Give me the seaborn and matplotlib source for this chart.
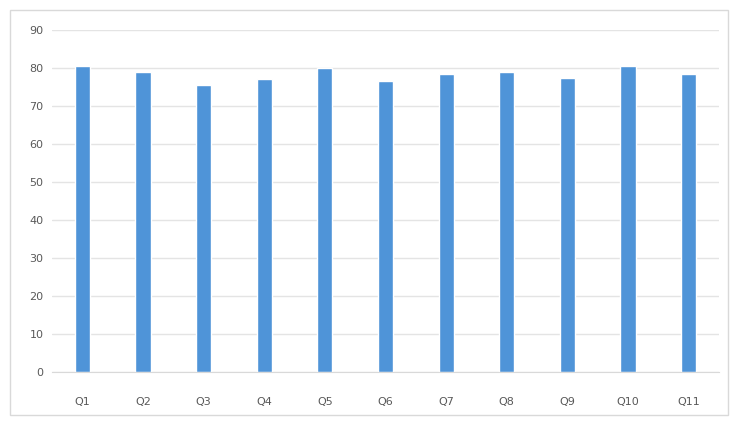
import matplotlib
matplotlib.use('Agg')
import matplotlib.pyplot as plt
import seaborn as sns
import pandas as pd

questions = ['Q1', 'Q2', 'Q3', 'Q4', 'Q5', 'Q6', 'Q7', 'Q8', 'Q9', 'Q10', 'Q11']
scores = [80.5, 79, 75.5, 77, 80, 76.5, 78.5, 79, 77.5, 80.5, 78.5]
y_ticks = [0, 10, 20, 30, 40, 50, 60, 70, 80, 90]

df = pd.DataFrame({'question': questions, 'score': scores})

sns.set_style('white')
plt.rcParams['font.family'] = ['DejaVu Sans']

fig = plt.figure(figsize=(7.36, 4.29), dpi=100)
ax = fig.add_axes([52 / 736, 1 - 372 / 429, (719 - 52) / 736, (372 - 30) / 429])

sns.barplot(data=df, x='question', y='score', color='#4F94D8', saturation=1,
            width=0.25, ax=ax)

ax.set_ylim(0, 90)
ax.set_yticks(y_ticks)
ax.set_xlim(-0.5, len(questions) - 0.5)
ax.grid(axis='y', color='#e4e4e4', linewidth=1)
ax.set_axisbelow(True)
for side in ['top', 'right', 'left']:
    ax.spines[side].set_visible(False)
ax.spines['bottom'].set_color('#d9d9d9')
ax.tick_params(axis='both', length=0, labelsize=8, colors='#595959')
ax.tick_params(axis='y', pad=6)
ax.tick_params(axis='x', pad=18)
ax.set_xlabel('')
ax.set_ylabel('')

# chart border like an Excel chart area
border = plt.Rectangle((10 / 736, 14 / 429), 718 / 736, 405 / 429, transform=fig.transFigure,
                       fill=False, edgecolor='#d9d9d9', linewidth=1)
fig.patches.append(border)

fig.savefig('out.png', dpi=100)
